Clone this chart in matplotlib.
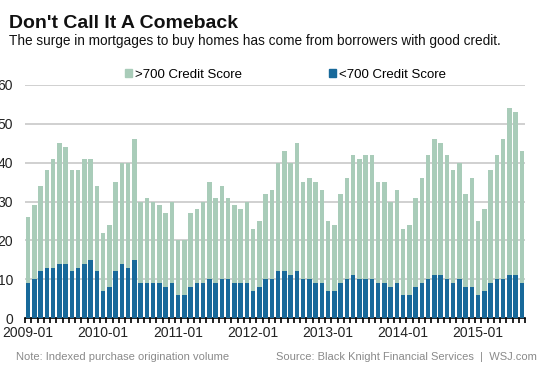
import numpy as np
import matplotlib.pyplot as plt
from matplotlib.patches import Patch

# monthly, 2009-01 .. 2015-08
total = [26, 29, 34, 38, 41, 45, 44, 38, 38, 41, 41, 34,
         22, 24, 35, 40, 40, 46, 30, 31, 30, 29, 27, 30,
         20, 20, 27, 28, 30, 35, 31, 34, 31, 29, 28, 30,
         23, 25, 32, 33, 40, 43, 40, 45, 35, 36, 35, 33,
         25, 24, 32, 36, 42, 41, 42, 42, 35, 35, 30, 33,
         23, 24, 31, 36, 42, 46, 45, 42, 38, 40, 32, 36,
         25, 28, 38, 42, 46, 54, 53, 43]
low = [9, 10, 12, 13, 13, 14, 14, 12, 13, 14, 15, 12,
       7, 8, 12, 14, 13, 15, 9, 9, 9, 9, 8, 9,
       6, 6, 8, 9, 9, 10, 9, 10, 10, 9, 9, 9,
       7, 8, 10, 10, 12, 12, 11, 12, 10, 10, 9, 9,
       7, 7, 9, 10, 11, 10, 10, 10, 9, 9, 8, 9,
       6, 6, 8, 9, 10, 11, 11, 10, 9, 10, 8, 8,
       6, 7, 9, 10, 10, 11, 11, 9]
years = ['2009-01', '2010-01', '2011-01', '2012-01', '2013-01', '2014-01', '2015-01']

high = [t - l for t, l in zip(total, low)]

light = '#a9ccb9'
dark = '#18699a'

plt.rcParams['font.family'] = ['Liberation Sans', 'DejaVu Sans']

fig = plt.figure(figsize=(5.53, 3.69), dpi=100)
ax = fig.add_axes([25 / 553, 1 - 318 / 369, 500 / 553, 233 / 369])

x = np.arange(len(total))
ax.bar(x, low, width=0.74, color=dark, zorder=3)
ax.bar(x, high, width=0.74, bottom=low, color=light, zorder=3)

ax.set_xlim(-0.5, len(total) - 0.5)
ax.set_ylim(0, 60)
ax.set_yticks(range(0, 61, 10))
ax.yaxis.grid(True, color='#c8c8c8', lw=1.2, zorder=0)
ax.tick_params(axis='y', length=0, pad=8.5, labelsize=10, labelcolor='#222222')

ax.set_xticks(np.arange(0, len(total), 12))
ax.set_xticklabels(years)
ax.set_xticks(np.arange(len(total) + 1) - 0.5, minor=True)
ax.tick_params(axis='x', which='major', length=0, pad=6, labelsize=10, labelcolor='#222222')
ax.tick_params(axis='x', which='minor', length=3.5, width=1.2, color='black')

for s in ['top', 'right', 'left']:
    ax.spines[s].set_visible(False)
ax.spines['bottom'].set_color('black')
ax.spines['bottom'].set_linewidth(1.2)

fig.text(9 / 553, 1 - 27.5 / 369, "Don't Call It A Comeback", fontsize=14,
         fontweight='bold', color='#111111')
fig.text(9 / 553, 1 - 45 / 369,
         'The surge in mortgages to buy homes has come from borrowers with good credit.',
         fontsize=9.8, color='#111111')

handles = [Patch(color=light, label='>700 Credit Score'),
           Patch(color=dark, label='<700 Credit Score')]
fig.legend(handles=handles, loc='center left', bbox_to_anchor=(125 / 553, 1 - 75 / 369),
           ncol=2, frameon=False, fontsize=9.5, handlelength=0.55, handleheight=0.55,
           handletextpad=0.2, columnspacing=6.6, borderpad=0, borderaxespad=0)

fig.text(16 / 553, 1 - 360 / 369, 'Note: Indexed purchase origination volume',
         fontsize=8, color='#8a8a8a')
fig.text(537 / 553, 1 - 360 / 369, 'Source: Black Knight Financial Services  |  WSJ.com',
         fontsize=8, color='#8a8a8a', ha='right')

fig.savefig('out.png', dpi=100)
